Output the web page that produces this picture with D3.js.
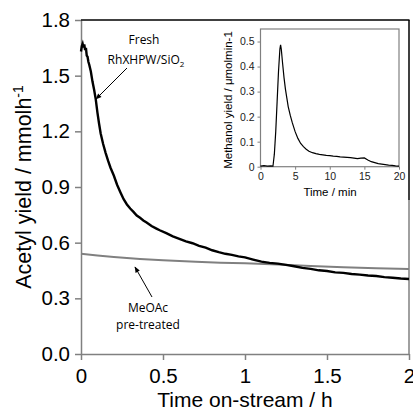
<!DOCTYPE html>
<html>
<head>
<meta charset="utf-8">
<script src="https://cdn.jsdelivr.net/npm/d3@7"></script>
<style>
  body { margin: 0; background: #fff; }
  svg { display: block; }
</style>
</head>
<body>
<script>
// main chart: time on-stream (h) vs acetyl yield (mmol/h)
var freshTime = [0.000, 0.005, 0.010, 0.015, 0.020, 0.025, 0.030, 0.035, 0.040, 0.045,
  0.050, 0.060, 0.070, 0.080, 0.090, 0.100, 0.110, 0.120, 0.135, 0.150,
  0.165, 0.180, 0.200, 0.220, 0.240, 0.260, 0.280, 0.300, 0.320, 0.340,
  0.360, 0.380, 0.400, 0.430, 0.460, 0.480, 0.520, 0.560, 0.600, 0.640,
  0.680, 0.720, 0.760, 0.800, 0.840, 0.880, 0.920, 0.960, 1.000, 1.050,
  1.100, 1.150, 1.200, 1.250, 1.300, 1.350, 1.400, 1.450, 1.500, 1.550,
  1.600, 1.650, 1.700, 1.750, 1.800, 1.850, 1.900, 1.950, 2.000];
var freshYield = [1.630, 1.660, 1.672, 1.652, 1.668, 1.638, 1.650, 1.608, 1.602, 1.575,
  1.560, 1.522, 1.468, 1.424, 1.372, 1.302, 1.242, 1.188, 1.132, 1.084,
  1.042, 1.004, 0.962, 0.912, 0.872, 0.834, 0.806, 0.784, 0.766, 0.746,
  0.734, 0.720, 0.709, 0.690, 0.676, 0.667, 0.651, 0.634, 0.621, 0.607,
  0.597, 0.583, 0.573, 0.559, 0.549, 0.540, 0.534, 0.526, 0.521, 0.509,
  0.498, 0.491, 0.487, 0.480, 0.473, 0.464, 0.459, 0.451, 0.447, 0.440,
  0.437, 0.431, 0.428, 0.423, 0.420, 0.414, 0.411, 0.407, 0.404];

var meoacTime = [0, 0.1, 0.2, 0.36, 0.5, 0.7, 0.85, 1.0, 1.2, 1.4, 1.6, 1.8, 2.0];
var meoacYield = [0.540, 0.531, 0.523, 0.512, 0.505, 0.497, 0.492, 0.489, 0.482, 0.474, 0.467, 0.462, 0.458];

var xTicks = [0, 0.5, 1, 1.5, 2];
var yTicks = [0, 0.3, 0.6, 0.9, 1.2, 1.5, 1.8];

// inset: time (min) vs methanol yield
var insetTime = [0, 0.5, 1.0, 1.5, 1.8, 2.0, 2.2, 2.4, 2.6, 2.8, 2.9, 3.0, 3.2, 3.4, 3.6, 3.8,
  4.0, 4.3, 4.6, 5.0, 5.4, 5.8, 6.2, 6.6, 7.0, 7.5, 8.0, 8.5, 9.0, 9.5, 10,
  10.5, 11, 11.5, 12, 12.5, 13, 13.5, 14, 14.5, 15, 15.5, 16, 16.5, 17, 17.5,
  18, 18.5, 19, 19.5, 20];
var insetYield = [0.002, 0.004, 0.002, 0.003, 0.002, 0.05, 0.14, 0.26, 0.38, 0.47, 0.487, 0.47, 0.41, 0.355, 0.31, 0.275,
  0.24, 0.205, 0.175, 0.14, 0.113, 0.093, 0.080, 0.070, 0.062, 0.056, 0.052, 0.049, 0.047, 0.045, 0.044,
  0.042, 0.041, 0.039, 0.038, 0.037, 0.036, 0.034, 0.032, 0.034, 0.035, 0.027, 0.020, 0.016, 0.012, 0.010,
  0.008, 0.006, 0.005, 0.003, 0.002];
var insetXTicks = [0, 5, 10, 15, 20];
var insetYTicks = [0, 0.1, 0.2, 0.3, 0.4, 0.5];

var width = 413, height = 410;
var svg = d3.select("body").append("svg")
    .attr("width", width)
    .attr("height", height);

var x = d3.scaleLinear().domain([0, 2]).range([81, 409]);
var y = d3.scaleLinear().domain([0, 1.8]).range([354, 20]);

var xAxis = d3.axisBottom(x).tickValues(xTicks).tickSize(6).tickSizeOuter(0).tickPadding(8)
    .tickFormat(d => d3.format("")(d));
var yAxis = d3.axisLeft(y).tickValues(yTicks).tickSize(6).tickSizeOuter(0).tickPadding(5)
    .tickFormat(d3.format(".1f"));

var gx = svg.append("g").attr("transform", "translate(0,354)").call(xAxis);
var gy = svg.append("g").attr("transform", "translate(81,0)").call(yAxis);
[gx, gy].forEach(g => {
    g.selectAll("path, line").attr("stroke", "#808080").attr("stroke-width", 1.5);
    g.selectAll("text").attr("font-family", "Liberation Sans, Arial, sans-serif")
        .attr("font-size", 20.5).attr("fill", "#000");
});

// frame: right side gray, inset picture border black on top/right
svg.append("line").attr("x1", 409).attr("x2", 409).attr("y1", 200).attr("y2", 354)
    .attr("stroke", "#808080").attr("stroke-width", 1.5);
svg.append("line").attr("x1", 81).attr("x2", 409.5).attr("y1", 20).attr("y2", 20)
    .attr("stroke", "#000").attr("stroke-width", 1.5);
svg.append("line").attr("x1", 409).attr("x2", 409).attr("y1", 20).attr("y2", 200)
    .attr("stroke", "#000").attr("stroke-width", 1.5);

var line = d3.line().x(d => x(d[0])).y(d => y(d[1]));

svg.append("path")
    .datum(meoacTime.map((t, i) => [t, meoacYield[i]]))
    .attr("d", line)
    .attr("fill", "none")
    .attr("stroke", "#808080")
    .attr("stroke-width", 2);

svg.append("path")
    .datum(freshTime.map((t, i) => [t, freshYield[i]]))
    .attr("d", line)
    .attr("fill", "none")
    .attr("stroke", "#000")
    .attr("stroke-width", 2.4);

// axis titles
svg.append("text")
    .attr("x", 245).attr("y", 407)
    .attr("text-anchor", "middle")
    .attr("font-family", "Liberation Sans, Arial, sans-serif")
    .attr("font-size", 21)
    .text("Time on-stream / h");

var yt = svg.append("text")
    .attr("transform", "translate(31,187) rotate(-90)")
    .attr("text-anchor", "middle")
    .attr("font-family", "Liberation Sans, Arial, sans-serif")
    .attr("font-size", 21.5);
yt.append("tspan").text("Acetyl yield / mmolh");
yt.append("tspan").attr("font-size", 14).attr("dy", -8).text("-1");

// annotations
var ann = svg.append("g").attr("font-family", "Open Sans, Noto Sans, sans-serif")
    .attr("font-size", 12).attr("text-anchor", "middle").attr("fill", "#000");
ann.append("text").attr("x", 144).attr("y", 44).text("Fresh");
var rh = ann.append("text").attr("x", 146).attr("y", 64);
rh.append("tspan").text("RhXHPW/SiO");
rh.append("tspan").attr("font-size", 8).attr("dy", 3).text("2");
ann.append("text").attr("x", 148).attr("y", 312).text("MeOAc");
ann.append("text").attr("x", 148).attr("y", 329).text("pre-treated");

svg.append("defs").append("marker")
    .attr("id", "arrow").attr("viewBox", "0 0 10 10")
    .attr("refX", 9).attr("refY", 5)
    .attr("markerWidth", 8).attr("markerHeight", 6)
    .attr("orient", "auto-start-reverse")
    .append("path").attr("d", "M0,1 L10,5 L0,9 z").attr("fill", "#000");

svg.append("line").attr("x1", 127).attr("y1", 68).attr("x2", 96).attr("y2", 99)
    .attr("stroke", "#000").attr("stroke-width", 1).attr("marker-end", "url(#arrow)");
svg.append("line").attr("x1", 152).attr("y1", 297).attr("x2", 135).attr("y2", 267)
    .attr("stroke", "#000").attr("stroke-width", 1).attr("marker-end", "url(#arrow)");

// inset
var ix = d3.scaleLinear().domain([0, 20]).range([260.5, 399]);
var iy = d3.scaleLinear().domain([0, 0.55]).range([166.7, 29]);

svg.append("rect").attr("x", 260.5).attr("y", 29).attr("width", 138.5).attr("height", 137.7)
    .attr("fill", "#fff").attr("stroke", "#808080").attr("stroke-width", 1.2);

var igx = svg.append("g").attr("transform", "translate(0,166.7)")
    .call(d3.axisBottom(ix).tickValues(insetXTicks).tickSize(3).tickSizeOuter(0).tickPadding(3));
var igy = svg.append("g").attr("transform", "translate(260.5,0)")
    .call(d3.axisLeft(iy).tickValues(insetYTicks).tickSize(3).tickSizeOuter(0).tickPadding(3)
        .tickFormat(d => d === 0 ? "0" : d3.format(".1f")(d)));
[igx, igy].forEach(g => {
    g.select(".domain").remove();
    g.selectAll("line").attr("stroke", "#808080");
    g.selectAll("text").attr("font-family", "Liberation Sans, Arial, sans-serif")
        .attr("font-size", 10.5).attr("fill", "#222");
});

svg.append("path")
    .datum(insetTime.map((t, i) => [t, insetYield[i]]))
    .attr("d", d3.line().x(d => ix(d[0])).y(d => iy(d[1])))
    .attr("fill", "none")
    .attr("stroke", "#000")
    .attr("stroke-width", 1.2);

svg.append("text")
    .attr("x", 330).attr("y", 196)
    .attr("text-anchor", "middle")
    .attr("font-family", "Liberation Sans, Arial, sans-serif")
    .attr("font-size", 11.5)
    .text("Time / min");

svg.append("text")
    .attr("transform", "translate(232,100) rotate(-90)")
    .attr("text-anchor", "middle")
    .attr("font-family", "Liberation Sans, Arial, sans-serif")
    .attr("font-size", 11.5)
    .text("Methanol yield / μmolmin-1");
</script>
</body>
</html>
